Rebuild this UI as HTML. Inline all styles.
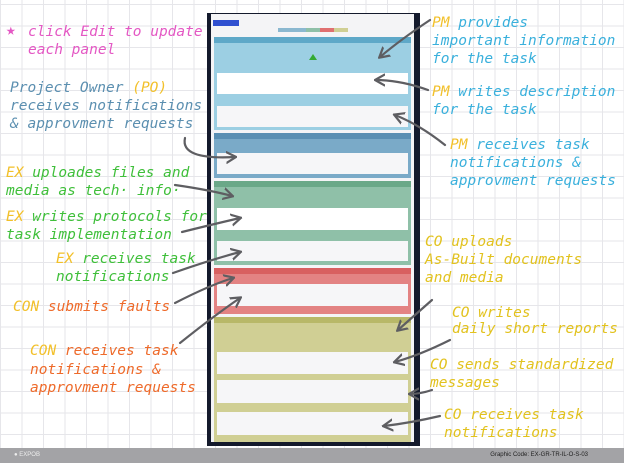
<!DOCTYPE html>
<html><head><meta charset="utf-8"><style>
body{margin:0;width:624px;height:463px;overflow:hidden;position:relative;background:#fff;
background-image:linear-gradient(#e6e6ea 1px,transparent 1px),linear-gradient(90deg,#e6e6ea 1px,transparent 1px);background-size:21.5px 21.5px;background-position:0 4px;font-family:"DejaVu Sans Mono",monospace;}
.t{position:absolute;font-size:14.5px;line-height:18px;white-space:nowrap;font-style:italic}
.pk{color:#e458c4}.bl{color:#5b8fb0}.y{color:#f2c02a}.g{color:#3fbf3a}.o{color:#ee6a2a}.c{color:#3ab0dc}.yo{color:#e2c21e}
.a{position:absolute}
.frame{left:207px;top:13px;width:213px;height:433px;background:#141a2c}
.in{left:211px;top:14px;width:203px;height:428px;background:#f4f4f6}
.w{position:absolute;background:#f6f6f8}
.bar{left:0;top:448px;width:624px;height:15px;background:#a3a3a6;font-family:"Liberation Sans",sans-serif;font-size:6px;color:#222}
</style></head><body>
<div class="a frame"></div>
<div class="a in"></div>
<div class="a" style="left:213px;top:20px;width:26px;height:6px;background:#3050d0"></div>
<div class="a" style="left:278px;top:28px;width:70px;height:4px;background:linear-gradient(90deg,#8bb8d0 40%,#8fc0a8 40% 60%,#e07070 60% 80%,#d0cf94 80%)"></div>
<!-- PM -->
<div class="a" style="left:214px;top:37px;width:197px;height:93px;background:#9ccfe3"></div>
<div class="a" style="left:214px;top:37px;width:197px;height:6px;background:#5ea8c8"></div>
<div class="a" style="left:309px;top:54px;width:8px;height:6px;background:#3a3;clip-path:polygon(50% 0,100% 100%,0 100%)"></div>
<div class="w" style="left:217px;top:73px;width:191px;height:21px;background:#fff"></div>
<div class="w" style="left:217px;top:106px;width:191px;height:21px"></div>
<!-- PO -->
<div class="a" style="left:214px;top:133px;width:197px;height:45px;background:#7aaac8"></div>
<div class="a" style="left:214px;top:133px;width:197px;height:6px;background:#5a8fb3"></div>
<div class="w" style="left:217px;top:153px;width:191px;height:21px"></div>
<!-- EX -->
<div class="a" style="left:214px;top:181px;width:197px;height:84px;background:#8fc0a8"></div>
<div class="a" style="left:214px;top:181px;width:197px;height:6px;background:#6aa888"></div>
<div class="w" style="left:217px;top:208px;width:191px;height:22px;background:#fff"></div>
<div class="w" style="left:217px;top:241px;width:191px;height:20px"></div>
<!-- CON -->
<div class="a" style="left:214px;top:268px;width:197px;height:46px;background:#e38383"></div>
<div class="a" style="left:214px;top:268px;width:197px;height:6px;background:#d86060"></div>
<div class="w" style="left:217px;top:284px;width:191px;height:22px"></div>
<!-- CO -->
<div class="a" style="left:214px;top:317px;width:197px;height:125px;background:#d0cf94"></div>
<div class="a" style="left:214px;top:317px;width:197px;height:6px;background:#b8b868"></div>
<div class="w" style="left:217px;top:352px;width:191px;height:22px"></div>
<div class="w" style="left:217px;top:380px;width:191px;height:23px"></div>
<div class="w" style="left:217px;top:412px;width:191px;height:23px"></div>

<div class="a bar"><span style="position:absolute;left:14px;top:4px;color:#eee">● EXPOB</span><span style="position:absolute;right:36px;top:4px">Graphic Code: EX-GR-TR-IL-O-S-03</span></div>

<div class="t pk" style="left:6px;top:21px;font-style:normal;font-size:16px">★</div>
<div class="t pk" style="left:28px;top:23px">click Edit to update<br>each panel</div>
<div class="t bl" style="left:10px;top:79px">Project Owner <span class="y">(PO)</span><br>receives notifications<br>&amp; approvment requests</div>
<div class="t g" style="left:6px;top:164px"><span class="y">EX</span> uploades files and<br>media as tech· info·</div>
<div class="t g" style="left:6px;top:208px"><span class="y">EX</span> writes protocols for<br>task implementation</div>
<div class="t g" style="left:56px;top:250px"><span class="y">EX</span> receives task<br>notifications</div>
<div class="t o" style="left:13px;top:298px"><span class="y">CON</span> submits faults</div>
<div class="t o" style="left:30px;top:342px;line-height:18.5px"><span class="y">CON</span> receives task<br>notifications &amp;<br>approvment requests</div>

<div class="t c" style="left:432px;top:14px"><span class="y">PM</span> provides<br>important information<br>for the task</div>
<div class="t c" style="left:432px;top:83px"><span class="y">PM</span> writes description<br>for the task</div>
<div class="t c" style="left:450px;top:136px"><span class="y">PM</span> receives task<br>notifications &amp;<br>approvment requests</div>
<div class="t yo" style="left:425px;top:233px">CO uploads<br>As-Built documents<br>and media</div>
<div class="t yo" style="left:452px;top:305px;line-height:16px">CO writes<br>daily short reports</div>
<div class="t yo" style="left:430px;top:356px">CO sends standardized<br>messages</div>
<div class="t yo" style="left:444px;top:406px">CO receives task<br>notifications</div>

<svg class="a" style="left:0;top:0" width="624" height="463" fill="none" stroke="#5e5e62" stroke-width="2.2" stroke-linecap="round">
<defs><marker id="m" viewBox="0 0 10 10" refX="8" refY="5" markerWidth="5" markerHeight="6" orient="auto"><path d="M0 0L9 5L0 10" fill="none" stroke="#5e5e62" stroke-width="2"/></marker></defs>
<path d="M430 20 Q400 40 380 57" marker-end="url(#m)"/>
<path d="M428 90 Q400 80 376 80" marker-end="url(#m)"/>
<path d="M445 145 Q420 125 395 115" marker-end="url(#m)"/>
<path d="M185 138 Q180 160 235 157" marker-end="url(#m)"/>
<path d="M175 185 Q210 190 232 196" marker-end="url(#m)"/>
<path d="M182 232 Q210 225 240 218" marker-end="url(#m)"/>
<path d="M173 273 Q210 260 240 252" marker-end="url(#m)"/>
<path d="M175 303 Q210 285 233 278" marker-end="url(#m)"/>
<path d="M180 343 Q215 315 240 298" marker-end="url(#m)"/>
<path d="M432 300 Q415 315 398 330" marker-end="url(#m)"/>
<path d="M450 340 Q420 355 395 362" marker-end="url(#m)"/>
<path d="M432 390 Q420 394 410 394" marker-end="url(#m)"/>
<path d="M440 416 Q410 423 384 426" marker-end="url(#m)"/>
</svg>
</body></html>
